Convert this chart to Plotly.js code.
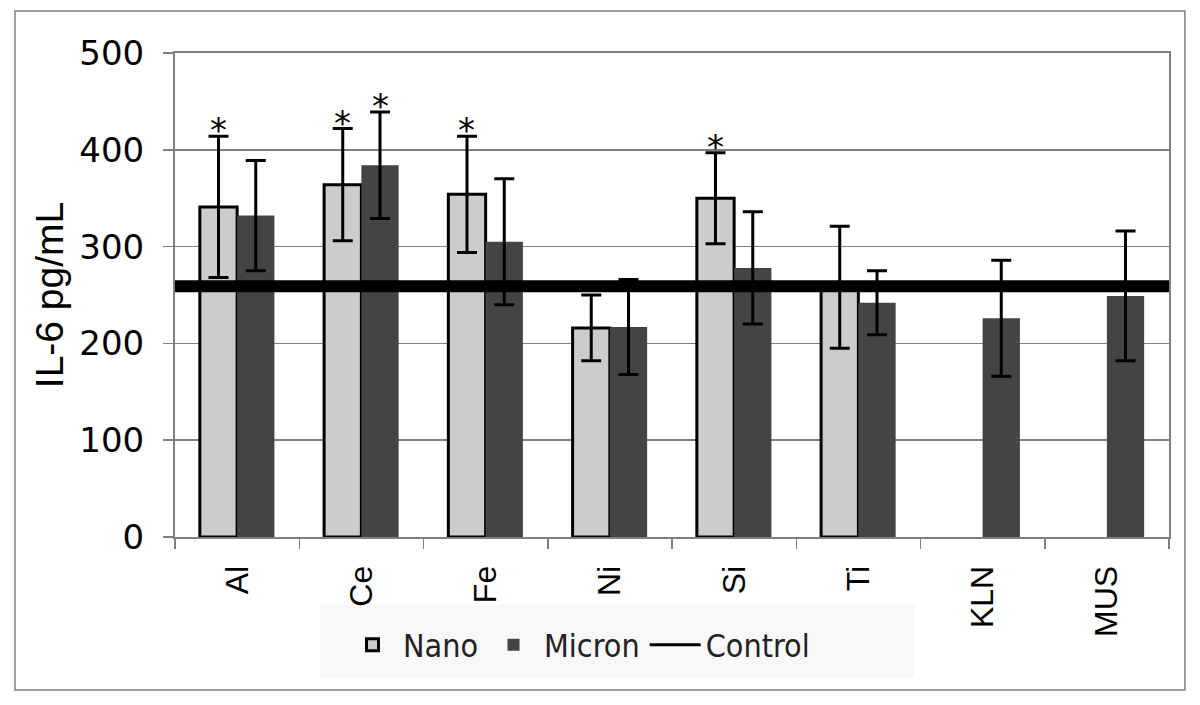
<!DOCTYPE html>
<html>
<head>
<meta charset="utf-8">
<script src="https://cdn.plot.ly/plotly-3.0.1.min.js"></script>
<style>
html,body{margin:0;padding:0;background:#fff;}
#chart{width:1200px;height:705px;}
</style>
</head>
<body>
<div id="chart"></div>
<script>
// ---- data ----
const categories   = ['Al', 'Ce', 'Fe', 'Ni', 'Si', 'Ti', 'KLN', 'MUS'];
const nanoValues   = [341, 364, 354, 216, 350, 258, null, null];
const nanoErrors   = [73, 58, 60, 34, 47, 63, null, null];
const micronValues = [332, 384, 305, 217, 278, 242, 226, 249];
const micronErrors = [57, 55, 65, 49, 58, 33, 60, 67];
const controlValue = 259;
const nanoStars    = [true, true, true, false, true, false, false, false];
const micronStars  = [false, true, false, false, false, false, false, false];
const yTickValues  = [0, 100, 200, 300, 400, 500];
const seriesNames  = ['Nano', 'Micron', 'Control'];
const yTitle       = 'IL-6 pg/mL';

// ---- styles ----
const nanoColor = '#cccccc';
const micronColor = '#444444';
const axisGray = '#808080';
const sansFont = 'Liberation Sans, Arial, sans-serif';
const verdanaLike = 'DejaVu Sans, Verdana, sans-serif';

const errStyle = {type: 'data', visible: true, color: '#000', thickness: 3, width: 10};

const traces = [
  {
    type: 'bar', name: seriesNames[0], x: categories, y: nanoValues,
    marker: {color: nanoColor, line: {color: '#000', width: 3}},
    error_y: Object.assign({array: nanoErrors}, errStyle),
    hoverinfo: 'x+y'
  },
  {
    type: 'bar', name: seriesNames[1], x: categories, y: micronValues,
    marker: {color: micronColor, line: {color: '#000', width: 0}},
    error_y: Object.assign({array: micronErrors}, errStyle),
    hoverinfo: 'x+y'
  },
  {
    // control level spanning the whole plot width (on a hidden overlay axis)
    type: 'scatter', mode: 'lines', name: seriesNames[2],
    x: [0, 1], y: [controlValue, controlValue], xaxis: 'x2',
    line: {color: '#000', width: 12}, showlegend: false, legendgroup: 'ctrl',
    cliponaxis: false, hoverinfo: 'y'
  },
  {
    // legend entry for the control line (thin line as in the reference legend)
    type: 'scatter', mode: 'lines', name: seriesNames[2],
    x: [null], y: [null], xaxis: 'x2',
    line: {color: '#000', width: 3}, showlegend: true, legendgroup: 'ctrl',
    hoverinfo: 'skip'
  }
];

// significance asterisks above error bars
const annotations = [];
const barOffset = 0.15;
categories.forEach((c, i) => {
  if (nanoStars[i]) {
    annotations.push({x: i - barOffset, y: nanoValues[i] + nanoErrors[i], xref: 'x', yref: 'y',
      text: '*', showarrow: false, yanchor: 'bottom', yshift: -16,
      font: {family: verdanaLike, size: 34, color: '#000'}});
  }
  if (micronStars[i]) {
    annotations.push({x: i + barOffset, y: micronValues[i] + micronErrors[i], xref: 'x', yref: 'y',
      text: '*', showarrow: false, yanchor: 'bottom', yshift: -16,
      font: {family: verdanaLike, size: 34, color: '#000'}});
  }
});

const layout = {
  width: 1200, height: 705,
  margin: {l: 175, r: 31, t: 53, b: 168},
  paper_bgcolor: '#fff', plot_bgcolor: '#fff',
  barmode: 'group', bargap: 0.4, bargroupgap: 0,
  showlegend: true,
  legend: {
    orientation: 'h', x: 0.168, xanchor: 'left', y: -0.223, yanchor: 'middle',
    bgcolor: 'rgba(0,0,0,0)', borderwidth: 0,
    font: {family: 'DejaVu Sans Condensed, DejaVu Sans, sans-serif', size: 32, color: '#222'},
    traceorder: 'normal', itemwidth: 51
  },
  xaxis: {
    type: 'category', range: [-0.5, categories.length - 0.5],
    tickson: 'boundaries', ticks: 'outside', ticklen: 10, tickwidth: 1.5, tickcolor: axisGray,
    showline: true, linecolor: axisGray, linewidth: 2, mirror: true,
    tickangle: -90, tickfont: {family: sansFont, size: 32, color: '#000'},
    ticklabelstandoff: 14,
    showgrid: false, fixedrange: true
  },
  xaxis2: {overlaying: 'x', range: [0, 1], visible: false, fixedrange: true},
  yaxis: {
    range: [0, 500], tickmode: 'array', tickvals: yTickValues,
    ticks: 'outside', ticklen: 10, tickwidth: 1.5, tickcolor: axisGray,
    showline: true, linecolor: axisGray, linewidth: 2, mirror: true,
    showgrid: true, gridcolor: axisGray, gridwidth: 1.5, zeroline: false,
    tickfont: {family: verdanaLike, size: 34, color: '#000'},
    ticklabelstandoff: 12,
    title: {text: yTitle, font: {family: sansFont, size: 39, color: '#000'}, standoff: 4},
    fixedrange: true
  },
  annotations: annotations,
  shapes: [
    {type: 'rect', xref: 'paper', yref: 'paper', x0: -0.161, x1: 1.016, y0: -0.316, y1: 1.0868,
     line: {color: axisGray, width: 1.5}, fillcolor: 'rgba(0,0,0,0)', layer: 'below'},
    // light legend panel
    {type: 'rect', xref: 'paper', yref: 'paper', x0: 0.146, x1: 0.744, y0: -0.291, y1: -0.140,
     line: {width: 0}, fillcolor: '#f8f8f8', layer: 'below'}
  ]
};

Plotly.newPlot('chart', traces, layout, {displayModeBar: false, staticPlot: true});
</script>
</body>
</html>
